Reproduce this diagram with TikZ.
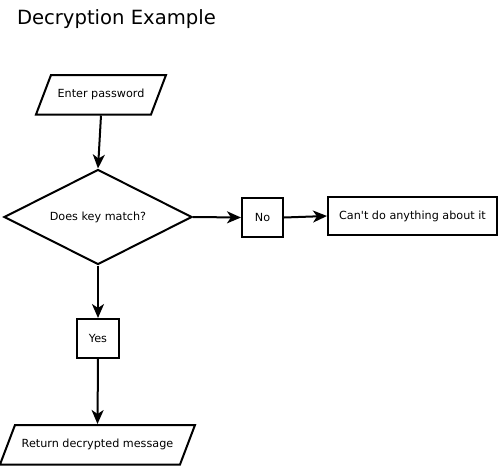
\documentclass[tikz,border=0pt]{standalone}
\usepackage{fontspec}
\setmainfont{DejaVu Sans}
\usetikzlibrary{arrows.meta,shapes.geometric}
\begin{document}
\begin{tikzpicture}[x=1pt,y=-1pt,
  line width=2pt,
  txt/.style={font=\fontsize{11.2}{14}\selectfont, inner sep=0pt},
  boxnode/.style={draw, txt, minimum height=39pt},
  arr/.style={-{Stealth[length=14pt,width=12pt,inset=4pt]}},
  shapeline/.style={line width=2pt, line join=miter}]
\useasboundingbox (0,0) rectangle (498,466);
% title
\node[anchor=base west, inner sep=0pt, font=\fontsize{19.6}{23}\selectfont] (title) at (16,24) {Decryption Example};
% Enter password parallelogram
\draw[shapeline] (51,75) -- (166,75) -- (151,114.5) -- (36,114.5) -- cycle;
\node[txt, minimum width=116pt, minimum height=39.5pt] (ep) at (101,94.75) {Enter password};
% decision diamond
\node[draw, diamond, txt, shapeline, minimum width=188pt, minimum height=95pt, aspect=1.98] (dk) at (98,217) {Does key match?};
% No box
\node[boxnode, minimum width=41pt] (no) at (262.5,217.5) {No};
% Can't box
\node[boxnode, minimum width=169pt, minimum height=38pt] (cant) at (412.5,216) {Can\textquotesingle t do anything about it};
% Yes box
\node[boxnode, minimum width=42pt] (yes) at (98,338.5) {Yes};
% Return parallelogram
\draw[shapeline] (15,425) -- (195,425) -- (180,464.5) -- (0,464.5) -- cycle;
\node[txt, minimum width=180pt, minimum height=39.5pt] (ret) at (97.5,444.75) {Return decrypted message};
% connectors
\draw[arr] (ep.south) -- (dk.north);
\draw[arr] (dk.east) -- (no.west);
\draw[arr] (no.east) -- (cant.west);
\draw[arr] (dk.south) -- (yes.north);
\draw[arr] (yes.south) -- (ret.north);
\end{tikzpicture}
\end{document}
